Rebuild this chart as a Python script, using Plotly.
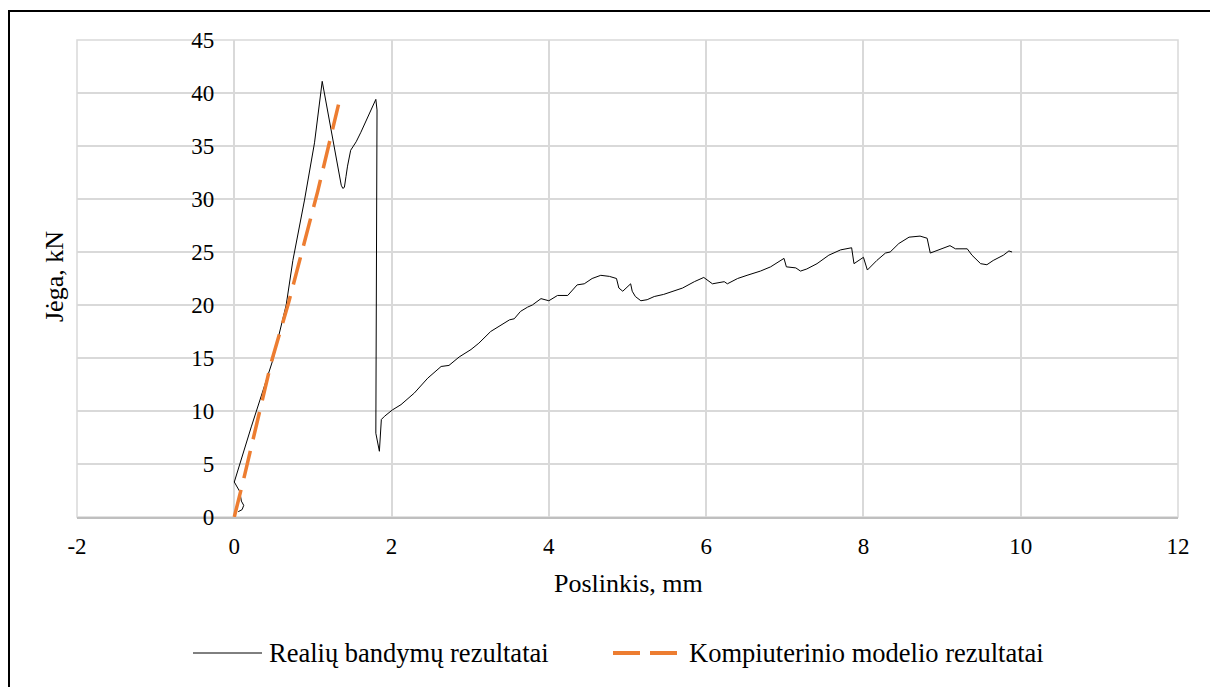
import plotly.graph_objects as go

# ---------------- data ----------------
real_x = [0.05, 0.10, 0.12, 0.09, 0.07, 0.00,
          0.216, 0.49, 0.66, 0.745, 0.893, 1.02, 1.118,
          1.23, 1.36, 1.38, 1.40, 1.42, 1.44, 1.48, 1.55, 1.61, 1.70, 1.80,
          1.815, 1.81, 1.80, 1.845, 1.87, 1.91, 2.01, 2.12, 2.29, 2.46, 2.63, 2.73,
          2.86, 3.01, 3.11, 3.26, 3.37, 3.50, 3.56, 3.64, 3.73, 3.79, 3.90, 4.00,
          4.11, 4.24, 4.36, 4.45, 4.55, 4.66, 4.77, 4.86, 4.89, 4.94, 5.04, 5.06,
          5.10, 5.17, 5.25, 5.34, 5.46, 5.59, 5.70, 5.85, 5.97, 6.08, 6.23, 6.27,
          6.40, 6.52, 6.69, 6.82, 6.95, 6.99, 7.02, 7.14, 7.20, 7.28, 7.41, 7.56,
          7.71, 7.83, 7.85, 7.88, 8.00, 8.05, 8.17, 8.28, 8.34, 8.45, 8.58, 8.72,
          8.81, 8.85, 8.98, 9.10, 9.17, 9.32, 9.38, 9.49, 9.57, 9.65, 9.78, 9.85,
          9.89]
real_y = [0.5, 0.7, 1.1, 1.5, 2.4, 3.3,
          8.5, 14.8, 20.0, 24.2, 29.9, 35.3, 41.1,
          36.5, 31.3, 31.0, 31.1, 32.1, 33.1, 34.6, 35.4, 36.3, 37.8, 39.4,
          38.4, 20.0, 7.9, 6.2, 9.2, 9.5, 10.1, 10.6, 11.7, 13.1, 14.2, 14.3,
          15.1, 15.8, 16.4, 17.5, 18.0, 18.6, 18.7, 19.4, 19.8, 20.0, 20.6, 20.4,
          20.9, 20.9, 21.9, 22.0, 22.5, 22.8, 22.7, 22.5, 21.6, 21.3, 22.0, 21.3,
          20.8, 20.4, 20.5, 20.8, 21.0, 21.3, 21.6, 22.2, 22.6, 22.0, 22.2, 22.0,
          22.5, 22.8, 23.2, 23.6, 24.2, 24.4, 23.6, 23.5, 23.2, 23.4, 23.9, 24.7,
          25.2, 25.4, 25.4, 23.9, 24.5, 23.3, 24.2, 24.9, 25.0, 25.8, 26.4, 26.5,
          26.3, 24.9, 25.3, 25.6, 25.3, 25.3, 24.7, 23.9, 23.8, 24.2, 24.7, 25.1,
          25.0]

model_x = [0.0, 0.13, 0.47, 0.69, 1.06, 1.325]
model_y = [0.0, 3.9, 14.6, 20.2, 30.7, 38.9]

series_names = ["Realių bandymų rezultatai", "Kompiuterinio modelio rezultatai"]
x_title = "Poslinkis, mm"
y_title = "Jėga, kN"
x_ticks = [-2, 0, 2, 4, 6, 8, 10, 12]
y_ticks = [0, 5, 10, 15, 20, 25, 30, 35, 40, 45]

# ---------------- layout helpers ----------------
W, H = 1210, 687
L, R, T, B = 77, 1178, 40, 517   # plot area in pixels


def px(xp):
    return (xp - L) / (R - L)


def py(yp):
    return (B - yp) / (B - T)


FONT = "Liberation Serif"
GRID = "#d9d9d9"
ORANGE = "#ED7D31"

fig = go.Figure()
fig.add_trace(go.Scatter(x=real_x, y=real_y, mode="lines", name=series_names[0],
                         line=dict(color="black", width=1)))
fig.add_trace(go.Scatter(x=model_x, y=model_y, mode="lines", name=series_names[1],
                         line=dict(color=ORANGE, width=3.5, dash="28px,12px")))

fig.update_layout(
    width=W, height=H,
    margin=dict(l=L, r=W - R, t=T, b=H - B),
    paper_bgcolor="white", plot_bgcolor="white",
    showlegend=False,
    font=dict(family=FONT, color="black", size=23),
    xaxis=dict(range=[-2, 12], tickvals=x_ticks, ticktext=[str(v) for v in x_ticks],
               showgrid=True, gridcolor=GRID, gridwidth=1.5,
               zeroline=False, showline=True, linecolor="#bfbfbf", linewidth=1.5,
               ticks="", ticklabelstandoff=8,
               tickfont=dict(family=FONT, size=23, color="black")),
    yaxis=dict(range=[0, 45], tickvals=y_ticks, ticktext=[str(v) for v in y_ticks],
               anchor="free", position=2 / 14,
               showgrid=True, gridcolor=GRID, gridwidth=1.5,
               zeroline=False, showline=False, ticks="", ticklabelstandoff=20,
               tickfont=dict(family=FONT, size=23, color="black")),
)

shapes = [
    # plot area border
    dict(type="rect", xref="paper", yref="paper", x0=0, y0=0, x1=1, y1=1,
         line=dict(color=GRID, width=1.5), layer="below"),
    # outer chart frame (only left/top visible)
    dict(type="rect", xref="paper", yref="paper", x0=px(9), y0=py(720), x1=px(1240), y1=py(11),
         line=dict(color="black", width=2)),
    # legend samples
    dict(type="line", xref="paper", yref="paper", x0=px(193), x1=px(262), y0=py(653), y1=py(653),
         line=dict(color="black", width=1)),
    dict(type="line", xref="paper", yref="paper", x0=px(613), x1=px(677), y0=py(653), y1=py(653),
         line=dict(color=ORANGE, width=4, dash="27px,10px")),
]
fig.update_layout(shapes=shapes)

annotations = [
    dict(text=x_title, xref="paper", yref="paper", x=px(628), y=py(583),
         xanchor="center", yanchor="middle", showarrow=False,
         font=dict(family=FONT, size=26, color="black")),
    dict(text=y_title, xref="paper", yref="paper", x=px(54), y=py(277),
         xanchor="center", yanchor="middle", showarrow=False, textangle=-90,
         font=dict(family=FONT, size=26, color="black")),
    dict(text=series_names[0], xref="paper", yref="paper", x=px(267), y=py(653),
         xanchor="left", yanchor="middle", showarrow=False,
         font=dict(family=FONT, size=26.5, color="black")),
    dict(text=series_names[1], xref="paper", yref="paper", x=px(687), y=py(653),
         xanchor="left", yanchor="middle", showarrow=False,
         font=dict(family=FONT, size=26.5, color="black")),
]
fig.update_layout(annotations=annotations)

fig.write_html("out.html")
